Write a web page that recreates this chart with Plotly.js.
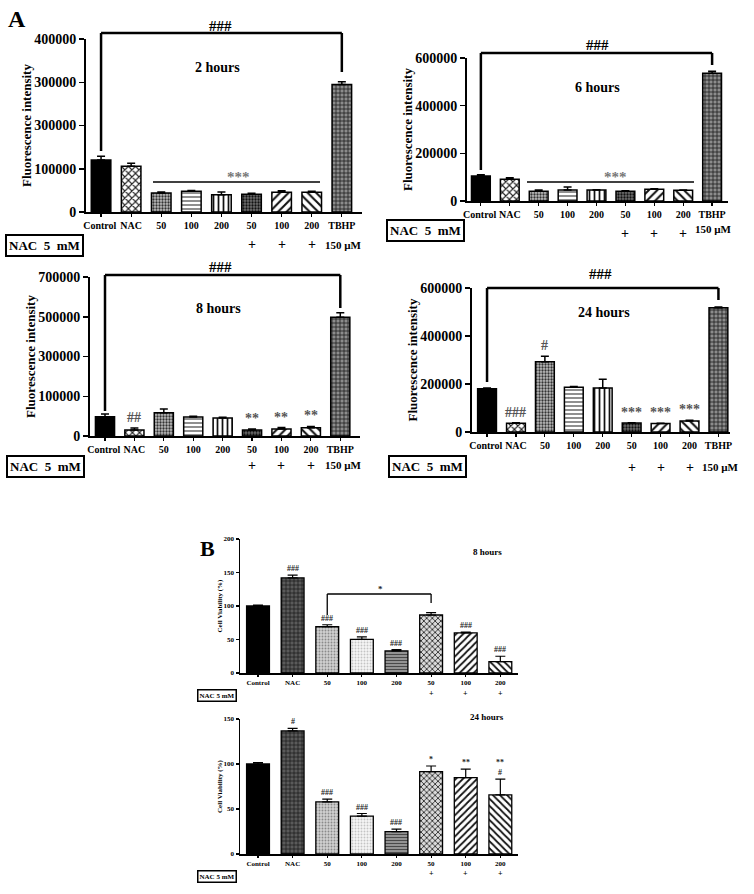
<!DOCTYPE html>
<html><head><meta charset="utf-8">
<script src="https://cdn.plot.ly/plotly-3.0.1.min.js"></script>
<style>html,body{margin:0;padding:0;background:#fff}#chart{width:754px;height:894px}</style>
</head><body><div id="chart"></div>
<script>
// ---------------- data ----------------
const catsA = ['Control','NAC','50','100','200','50','100','200','TBHP'];
const catsB = ['Control','NAC','50','100','200','50','100','200'];
const plusRowA = ['','','','','','+','+','+',''];
const plusRowB = ['','','','','','+','+','+'];

// Fluorescence intensity (panel A)
const fl2h    = [120000,106000,44000,48000,40000,41000,45500,45500,295000];
const fl2hErr = [9000,7000,2000,1500,6000,2600,3500,2500,6000];
const fl6h    = [105000,91000,41000,46000,46000,41000,49000,45000,536000];
const fl6hErr = [5000,7000,5000,13000,1500,1500,2500,1000,8000];
const fl8h    = [85000,26400,102600,83600,79000,26400,30800,36500,522600];
const fl8hErr = [12000,8600,16000,3000,3000,4400,6600,5500,20000];
const fl24h    = [180000,36000,293000,186000,183000,37000,35000,46000,518000];
const fl24hErr = [3000,3000,23000,4000,37000,2000,1500,3000,3000];

// Cell viability (panel B)
const cv8h    = [100,142,69,50.3,33,86.6,60,17];
const cv8hErr = [1.5,4,3,3.5,2,3.5,1,8];
const cv24h    = [100,136.7,58,42,24.8,91.5,84.8,65.6];
const cv24hErr = [1.5,2.9,3,3,2.9,6.3,9.6,17.7];

// tick labels (as printed)
const ticks2h  = ['0','100000','300000','300000','400000'];
const ticks6h  = ['0','200000','400000','600000'];
const ticks8h  = ['0','100000','300000','500000','700000'];
const ticks24h = ['0','200000','400000','600000'];
const ticksB8  = ['0','50','100','150','200'];
const ticksB24 = ['0','50','100','150'];

// significance marks above bars
const sig2h  = ['','','','','','','','',''];
const sig6h  = ['','','','','','','','',''];
const sig8h  = ['','##','','','','**','**','**',''];
const sig24h = ['','###','#','','','***','***','***',''];
const sigB8  = ['','###','###','###','###','','###','###'];
const sigB24 = ['','#','###','###','###','*','**','**<br>#'];

// ---------------- styles ----------------
const FONT = '"Liberation Serif", "Times New Roman", serif';
const patA = {
  shape: ['', 'x', '.', '-', '|', '.', '/', '\\', '+'],
  bg:    ['#000','#fff','#bdbdbd','#fff','#fff','#6e6e6e','#fff','#fff','#8c8c8c'],
  fg:    ['#000','#222','#333','#444','#111','#111','#111','#111','#1a1a1a'],
  size:  [6,5,3,4,5,3,6,6,4],
  sol:   [0.3,0.4,0.45,0.3,0.35,0.45,0.35,0.35,0.35]
};
const patB = {
  shape: ['', '+', '.', '.', '-', 'x', '/', '\\'],
  bg:    ['#000','#5a5a5a','#cfcfcf','#f4f4f4','#9a9a9a','#dadada','#fff','#fff'],
  fg:    ['#000','#111','#8a8a8a','#c4c4c4','#4a4a4a','#111','#111','#111'],
  size:  [6,4,3,3,3,4,5,5],
  sol:   [0.3,0.3,0.3,0.3,0.4,0.35,0.35,0.35]
};

const W = 754, H = 894;
const px = v => v / W;
const py = v => 1 - v / H;

const panels = [
  {xa:'x',  ya:'y',  x0:86,  x1:362, y0:39,  y1:212, xr:[-0.5,8.67],  yr:[0,400000], tv:[0,100000,200000,300000,400000], tt:ticks2h,  vals:fl2h,  errs:fl2hErr,  sig:sig2h,  cats:catsA, kind:'A'},
  {xa:'x2', ya:'y2', x0:467, x1:728, y0:58,  y1:201, xr:[-0.48,8.55], yr:[0,600000], tv:[0,200000,400000,600000],        tt:ticks6h,  vals:fl6h,  errs:fl6hErr,  sig:sig6h,  cats:catsA, kind:'A'},
  {xa:'x3', ya:'y3', x0:90,  x1:360, y0:277, y1:436, xr:[-0.51,8.67], yr:[0,700000], tv:[0,175000,350000,525000,700000], tt:ticks8h,  vals:fl8h,  errs:fl8hErr,  sig:sig8h,  cats:catsA, kind:'A'},
  {xa:'x4', ya:'y4', x0:472, x1:730, y0:288, y1:432, xr:[-0.52,8.4],  yr:[0,600000], tv:[0,200000,400000,600000],        tt:ticks24h, vals:fl24h, errs:fl24hErr, sig:sig24h, cats:catsA, kind:'A'},
  {xa:'x5', ya:'y5', x0:240, x1:518, y0:539, y1:673, xr:[-0.52,7.51], yr:[0,200],    tv:[0,50,100,150,200],             tt:ticksB8,  vals:cv8h,  errs:cv8hErr,  sig:sigB8,  cats:catsB, kind:'B'},
  {xa:'x6', ya:'y6', x0:240, x1:518, y0:719, y1:854, xr:[-0.52,7.51], yr:[0,150],    tv:[0,50,100,150],                 tt:ticksB24, vals:cv24h, errs:cv24hErr, sig:sigB24, cats:catsB, kind:'B'}
];

function xPx(p, i) { return p.x0 + (i - p.xr[0]) / (p.xr[1] - p.xr[0]) * (p.x1 - p.x0); }

const traces = [];
const layout = {
  width: W, height: H, margin: {l:0, r:0, t:0, b:0},
  paper_bgcolor: '#fff', plot_bgcolor: 'rgba(0,0,0,0)',
  showlegend: false, barmode: 'overlay', bargap: 0, font: {family: FONT, color: '#000'},
  annotations: [], shapes: []
};
const ann = layout.annotations, shp = layout.shapes;

function T(text, x, y, size, color, extra) {
  ann.push(Object.assign({xref:'paper', yref:'paper', x:px(x), y:py(y), text:text, showarrow:false,
    xanchor:'center', yanchor:'middle',
    font:{family:FONT, size:size, color:color || '#000', weight:'bold'}}, extra || {}));
}
function L(x0, y0, x1, y1, w) {
  shp.push({type:'line', xref:'paper', yref:'paper', x0:px(x0), y0:py(y0), x1:px(x1), y1:py(y1),
    line:{color:'#000', width:w || 2}});
}
function bracket(p, i0, i1, yTop, yLeft, yRight, w) {
  const a = xPx(p, i0), b = xPx(p, i1);
  L(a, yLeft, a, yTop, w); L(a, yTop, b, yTop, w); L(b, yTop, b, yRight, w);
}

panels.forEach((p, k) => {
  const A = p.kind === 'A';
  const xs = p.vals.map((_, i) => i);
  const pat = A ? patA : patB;
  const bw = A ? 0.65 : 0.66;
  // base fill (background colour of each bar)
  traces.push({
    type:'bar', x:xs, y:p.vals, xaxis:p.xa, yaxis:p.ya, width:bw,
    marker:{color:pat.bg, line:{width:0}},
    hoverinfo:'skip', showlegend:false
  });
  // pattern + outline + error bars
  traces.push({
    type:'bar', x:xs, y:p.vals, xaxis:p.xa, yaxis:p.ya, width:bw,
    marker:{color:pat.fg, line:{color:'#000', width: A ? 1.5 : 1.3},
      pattern:{shape:pat.shape, fgcolor:pat.fg, size:pat.size, solidity:pat.sol, fillmode:'replace'}},
    error_y:{type:'data', symmetric:false, array:p.errs, arrayminus:p.errs.map(() => 0),
      color:'#000', thickness: A ? 1.5 : 1.2, width: A ? 4 : 5},
    hoverinfo:'y', showlegend:false
  });
  const sx = k === 0 ? '' : String(k + 1);
  // in panel A the first label sits slightly left of its bar, as in the original
  const tickText = A ? p.cats.map((c, i) => i === 0 ? c + '\u00a0' : c) : p.cats;
  layout['xaxis' + sx] = {
    domain:[px(p.x0), px(p.x1)], range:p.xr, anchor:p.ya, showline:true, linecolor:'#000',
    linewidth: A ? 2 : 1.5, ticks:'outside', ticklen: A ? 3 : 2, tickwidth:1.2, tickcolor:'#000',
    tickvals:xs, ticktext:tickText, tickangle:0,
    tickfont:{family:FONT, size: A ? 10 : 7, color:'#000', weight:'bold'},
    showgrid:false, zeroline:false, fixedrange:true
  };
  layout['yaxis' + sx] = {
    domain:[py(p.y1), py(p.y0)], range:p.yr, anchor:p.xa, showline:true, linecolor:'#000',
    linewidth: A ? 2 : 1.5, ticks:'outside', ticklen: A ? 5 : 3, tickwidth:1.5, tickcolor:'#000',
    tickvals:p.tv, ticktext:p.tt,
    tickfont:{family:FONT, size: A ? 14 : 7, color:'#000', weight:'bold'},
    title:{text: A ? 'Fluorescence intensity' : 'Cell Viability (%)',
      font:{family:FONT, size: A ? 13 : 7, color:'#000', weight:'bold'}, standoff: 0},
    showgrid:false, zeroline:false, fixedrange:true
  };
  // significance marks above bars (anchored to data)
  p.sig.forEach((s, i) => {
    if (!s) return;
    ann.push({xref:p.xa, yref:p.ya, x:i, y:p.vals[i] + p.errs[i], text:s, showarrow:false,
      xanchor:'center', yanchor:'bottom', yshift: A ? 1 : 0,
      font:{family:FONT, size: A ? 14 : 8, color: A ? '#555' : '#222', weight:'bold'}});
  });
  // plus row
  const plusY = [245, 234, 465, 467, 693, 873][k];
  p.cats.forEach((c, i) => {
    const s = (A ? plusRowA : plusRowB)[i];
    if (s) ann.push({xref:p.xa, yref:'paper', x:i, y:py(plusY), text:s, showarrow:false,
      xanchor:'center', yanchor:'middle', font:{family:FONT, size: A ? 14 : 8, color:'#000', weight:'bold'}});
  });
});

// ---- panel A decorations ----
T('A', 17, 19, 24);
// 2 hours
T('2 hours', 217, 67, 14);
T('###', 221, 26, 15);
bracket(panels[0], 0, 8, 33, 151, 72, 2.5);
L(153, 182, 320, 182, 1.5);
T('***', 238, 177, 15, '#777');
T('150 µM', 343, 245, 11);
T('NAC\u00a0\u00a05\u00a0\u00a0mM', 44, 246, 13, '#000', {bordercolor:'#000', borderwidth:2, borderpad:2});
// 6 hours
T('6 hours', 597, 87, 14);
T('###', 597, 45, 15);
bracket(panels[1], 0, 8, 53, 170, 65, 2.5);
L(527, 182, 694, 182, 1.5);
T('***', 615, 177, 15, '#777');
T('150 µM', 713, 229, 11);
T('NAC\u00a0\u00a05\u00a0\u00a0mM', 425, 230, 13, '#000', {bordercolor:'#000', borderwidth:2, borderpad:2});
// 8 hours
T('8 hours', 218, 308, 14);
T('###', 220, 267, 15);
bracket(panels[2], 0, 8, 275, 411, 308, 2.5);
T('150 µM', 343, 465, 11);
T('NAC\u00a0\u00a05\u00a0\u00a0mM', 45, 466, 13, '#000', {bordercolor:'#000', borderwidth:2, borderpad:2});
// 24 hours
T('24 hours', 604, 313, 14);
T('###', 600, 274, 15);
bracket(panels[3], 0, 8, 288, 382, 300, 2.5);
T('150 µM', 720, 467, 11);
T('NAC\u00a0\u00a05\u00a0\u00a0mM', 428, 466, 13, '#000', {bordercolor:'#000', borderwidth:2, borderpad:2});

// ---- panel B decorations ----
T('B', 207, 548, 22);
T('8 hours', 487, 552, 9);
bracket(panels[4], 2, 5, 594, 615, 603, 1.3);
T('*', 380, 589, 9, '#222');
T('NAC 5 mM', 217, 695, 7, '#000', {bordercolor:'#000', borderwidth:1.5, borderpad:1});
T('24 hours', 487, 717, 9);
T('NAC 5 mM', 217, 876, 7, '#000', {bordercolor:'#000', borderwidth:1.5, borderpad:1});

Plotly.newPlot('chart', traces, layout, {staticPlot:true, displayModeBar:false});
</script>
</body></html>
